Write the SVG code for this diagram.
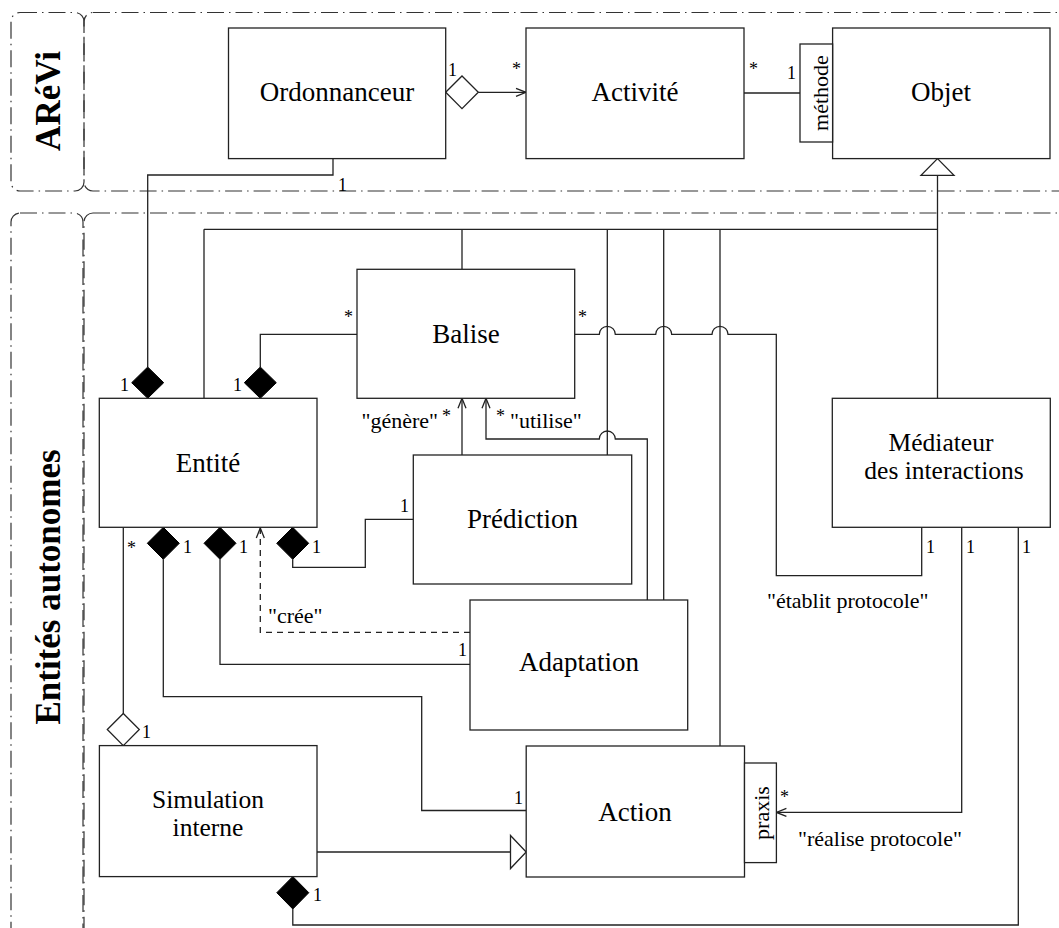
<svg xmlns="http://www.w3.org/2000/svg" width="1059" height="928" viewBox="0 0 1059 928">
<defs>
<style>
.frame{fill:none;stroke:#333;stroke-width:1.2;stroke-dasharray:17 5 1.5 5}
.box{fill:#fff;stroke:#222;stroke-width:1.3}
.ln{fill:none;stroke:#222;stroke-width:1.3}
.dash{fill:none;stroke:#222;stroke-width:1.3;stroke-dasharray:6 5}
.fill{fill:#000;stroke:#000;stroke-width:1}
.hollow{fill:#fff;stroke:#222;stroke-width:1.3}
.name{font-family:"Liberation Serif","Times New Roman",serif;font-size:27px;text-anchor:middle;fill:#000}
.name2{font-family:"Liberation Serif","Times New Roman",serif;font-size:25.5px;text-anchor:middle;fill:#000}
.lab{font-family:"Liberation Serif","Times New Roman",serif;font-size:22px;fill:#000}
.mul{font-family:"Liberation Serif","Times New Roman",serif;font-size:18px;fill:#000}
.title{font-family:"Liberation Serif","Times New Roman",serif;font-size:35px;font-weight:bold;text-anchor:middle;fill:#000}
</style>
<marker id="open" markerUnits="userSpaceOnUse" markerWidth="14" markerHeight="12" refX="11" refY="5" orient="auto">
<path d="M1,1 L11,5 L1,9" fill="none" stroke="#222" stroke-width="1.3"/>
</marker>
</defs>

<g id="frames">
<rect class="frame" x="11" y="12.5" width="73" height="178.5" rx="9"/>
<rect class="frame" x="84" y="12.5" width="1010" height="178.5" rx="9"/>
<rect class="frame" x="11" y="213" width="72" height="800" rx="9"/>
<rect class="frame" x="84" y="213" width="1010" height="800" rx="9"/>
<text class="title" transform="translate(60,101) rotate(-90)">ARéVi</text>
<text class="title" transform="translate(60,587) rotate(-90)">Entités autonomes</text>
</g>

<g id="connectors">
<path class="ln" d="M478.3,92.3 H526" marker-end="url(#open)"/>
<polygon class="hollow" points="445.7,92.3 462,76 478.3,92.3 462,108.6"/>
<text class="mul" x="448" y="76">1</text>
<text class="mul" x="512" y="75">*</text>
<path class="ln" d="M744,93 H800"/>
<text class="mul" x="749" y="75">*</text>
<text class="mul" x="787" y="79">1</text>
<path class="ln" d="M937.5,175.4 V398.3 M204,229.3 H937.5 M204,229.3 V398.3 M462,229.3 V269.3 M607.3,229.3 V455 M663.7,229.3 V600 M720,229.3 V746"/>
<polygon class="hollow" points="937.5,158.6 954,175.4 921,175.4"/>
<path class="ln" d="M333,158.6 V175 H147.7 V367"/>
<polygon class="fill" points="147.7,367 163.7,382.7 147.7,398.3 131.7,382.7"/>
<text class="mul" x="338" y="191">1</text>
<text class="mul" x="120" y="391">1</text>
<path class="ln" d="M260.3,367 V334.3 H357"/>
<polygon class="fill" points="260.3,367 276.3,382.7 260.3,398.3 244.3,382.7"/>
<text class="mul" x="344" y="323">*</text>
<text class="mul" x="233" y="391">1</text>
<path class="ln" d="M574.7,334.3 H599.3 A8,8 0 0 1 615.3,334.3 H655.7 A8,8 0 0 1 671.7,334.3 H712 A8,8 0 0 1 728,334.3 H776.3 V575.7 H921.7 V527.3"/>
<text class="mul" x="578" y="323">*</text>
<text class="mul" x="926" y="553">1</text>
<text class="lab" x="767" y="608">"établit protocole"</text>
<path class="ln" d="M462,455 V398.3" marker-end="url(#open)"/>
<text class="lab" x="438" y="428" text-anchor="end">"génère"</text>
<text class="mul" x="442" y="422">*</text>
<path class="ln" d="M647.3,600 V439 H615.3 A8,8 0 0 0 599.3,439 H486 V398.3" marker-end="url(#open)"/>
<text class="mul" x="496" y="422">*</text>
<text class="lab" x="510" y="428">"utilise"</text>
<path class="ln" d="M292.7,559.3 V567.3 H365.3 V519.3 H413.3"/>
<polygon class="fill" points="292.7,527.3 308.7,543.3 292.7,559.3 276.7,543.3"/>
<text class="mul" x="400" y="512">1</text>
<text class="mul" x="312" y="553">1</text>
<path class="ln" d="M220,559.3 V664.3 H470"/>
<polygon class="fill" points="220,527.3 236,543.3 220,559.3 204,543.3"/>
<text class="mul" x="239" y="553">1</text>
<text class="mul" x="458" y="656">1</text>
<path class="ln" d="M163.3,559.3 V696.7 H421.7 V810.5 H526.2"/>
<polygon class="fill" points="163.3,527.3 179.3,543.3 163.3,559.3 147.3,543.3"/>
<text class="mul" x="183" y="553">1</text>
<text class="mul" x="514" y="804">1</text>
<path class="ln" d="M123.3,527.3 V713.5"/>
<polygon class="hollow" points="123.3,713.5 139.3,729.5 123.3,745.6 107.3,729.5"/>
<text class="mul" x="127" y="554">*</text>
<text class="mul" x="142" y="738">1</text>
<path class="dash" d="M470,632.3 H260.3 V528" marker-end="url(#open)"/>
<text class="lab" x="268" y="623">"crée"</text>
<path class="ln" d="M317,852 H510.5"/>
<polygon class="hollow" points="510.5,835.5 526.2,852 510.5,868.5"/>
<path class="ln" d="M961.7,527.3 V812.4 H776.4" marker-end="url(#open)"/>
<text class="mul" x="966" y="553">1</text>
<text class="mul" x="780" y="803">*</text>
<text class="lab" x="798" y="846">"réalise protocole"</text>
<path class="ln" d="M1018.3,527.3 V925 H292.8 V909"/>
<polygon class="fill" points="292.8,876.5 308.8,892.7 292.8,909 276.8,892.7"/>
<text class="mul" x="1022" y="553">1</text>
<text class="mul" x="313" y="901">1</text>
</g>

<g id="ordonnanceur">
<rect class="box" x="228.5" y="28" width="217.2" height="130.6"/>
<text class="name" x="337" y="101">Ordonnanceur</text>
</g>
<g id="activite">
<rect class="box" x="526" y="28" width="218" height="130.6"/>
<text class="name" x="635" y="101">Activité</text>
</g>
<g id="objet">
<rect class="box" x="832.6" y="28" width="217.4" height="130.6"/>
<text class="name" x="941" y="101">Objet</text>
<rect class="box" x="800" y="44" width="32.6" height="98"/>
<text class="lab" text-anchor="middle" transform="translate(828,93) rotate(-90)">méthode</text>
</g>
<g id="balise">
<rect class="box" x="357" y="269.3" width="217.7" height="129"/>
<text class="name" x="466" y="343">Balise</text>
</g>
<g id="entite">
<rect class="box" x="99.3" y="398.3" width="217.7" height="129"/>
<text class="name" x="208" y="472">Entité</text>
</g>
<g id="prediction">
<rect class="box" x="413.3" y="455" width="218.4" height="129"/>
<text class="name" x="522.5" y="528">Prédiction</text>
</g>
<g id="mediateur">
<rect class="box" x="832.3" y="398.3" width="218" height="129"/>
<text class="name2" x="941" y="451">Médiateur</text>
<text class="name2" x="944" y="479">des interactions</text>
</g>
<g id="adaptation">
<rect class="box" x="470" y="600" width="217.7" height="130"/>
<text class="name" x="579" y="671">Adaptation</text>
</g>
<g id="simulation">
<rect class="box" x="99.4" y="745.6" width="217.6" height="131"/>
<text class="name2" x="208" y="808">Simulation</text>
<text class="name2" x="208" y="836">interne</text>
</g>
<g id="action">
<rect class="box" x="526.2" y="746" width="218.3" height="131"/>
<text class="name" x="635" y="821">Action</text>
<rect class="box" x="744.5" y="763" width="31.9" height="99.6"/>
<text class="lab" text-anchor="middle" transform="translate(769,813) rotate(-90)">praxis</text>
</g>
</svg>
